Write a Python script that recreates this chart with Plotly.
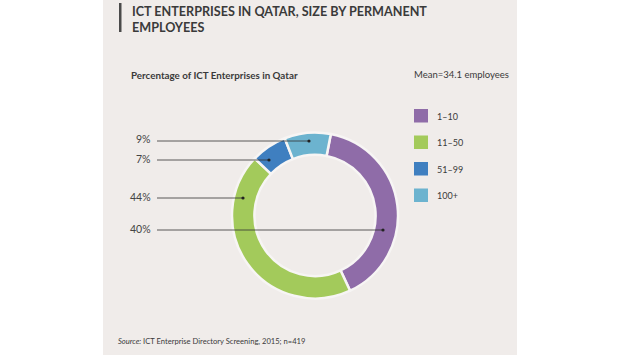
import plotly.graph_objects as go

# ---- data ----
categories = ["1–10", "11–50", "51–99", "100+"]
shares = [40, 44, 7, 9]
colors = ["#8f6ca8", "#a3ca5b", "#3f7fc0", "#6cb3cf"]

title_lines = ["ICT ENTERPRISES IN QATAR, SIZE BY PERMANENT", "EMPLOYEES"]
subtitle = "Percentage of ICT Enterprises in Qatar"
mean_note = "Mean=34.1 employees"
source_note = "<i>Source:</i> ICT Enterprise Directory Screening, 2015; n=419"

W, H = 620, 355


def px(x):
    return x / W


def py(y):
    return 1 - y / H


FONT = "Lato"
TXT = "#3a3a3a"

fig = go.Figure()
fig.add_trace(go.Pie(
    labels=categories,
    values=shares,
    sort=False,
    direction="clockwise",
    rotation=11,
    hole=0.73,
    marker=dict(colors=colors, line=dict(color="#f7f5f4", width=2.5)),
    textinfo="none",
    hoverinfo="label+percent",
    showlegend=False,
    domain=dict(x=[px(232), px(398)], y=[1 - 298.5 / H, 1 - 132.5 / H]),
))

shapes = [
    # background panel
    dict(type="rect", xref="paper", yref="paper", x0=px(103), x1=px(517), y0=0, y1=1,
         fillcolor="#f0ecea", line=dict(width=0), layer="below"),
    # title accent bar
    dict(type="rect", xref="paper", yref="paper", x0=px(119), x1=px(121.5), y0=py(32), y1=py(3),
         fillcolor="#4a4a4a", line=dict(width=0)),
]
annotations = []

# title
annotations.append(dict(text="<br>".join(title_lines), x=px(130), y=py(2), xref="paper", yref="paper",
                        xanchor="left", yanchor="top", align="left", showarrow=False,
                        font=dict(family=FONT, size=12.6, color=TXT, weight="bold")))
annotations.append(dict(text=subtitle, x=px(129), y=py(75), xref="paper", yref="paper",
                        xanchor="left", yanchor="middle", showarrow=False,
                        font=dict(family=FONT, size=9.8, color=TXT, weight="bold")))
annotations.append(dict(text=mean_note, x=px(412), y=py(75), xref="paper", yref="paper",
                        xanchor="left", yanchor="middle", showarrow=False,
                        font=dict(family=FONT, size=9.5, color=TXT)))
annotations.append(dict(text=source_note, x=px(116), y=py(341), xref="paper", yref="paper",
                        xanchor="left", yanchor="middle", showarrow=False,
                        font=dict(family=FONT, size=7.6, color=TXT)))

# legend (manual)
leg_top = [109, 135.5, 162, 188.5]
for cat, col, yt in zip(categories, colors, leg_top):
    shapes.append(dict(type="rect", xref="paper", yref="paper", x0=px(414), x1=px(428),
                       y0=py(yt + 13.5), y1=py(yt), fillcolor=col, line=dict(width=0)))
    annotations.append(dict(text=cat, x=px(435), y=py(yt + 7), xref="paper", yref="paper",
                            xanchor="left", yanchor="middle", showarrow=False,
                            font=dict(family=FONT, size=9, color=TXT)))

# leader labels (label y level, dot x on ring)
leader_y = [230, 198, 160, 141]
leader_dot_x = [383, 243, 269, 309]
for v, ly, dx in zip(shares, leader_y, leader_dot_x):
    annotations.append(dict(text=f"{v}%", x=px(153), y=py(ly - 1.5), xref="paper", yref="paper",
                            xanchor="right", yanchor="middle", showarrow=False,
                            font=dict(family=FONT, size=10.5, color="#444")))
    shapes.append(dict(type="line", xref="paper", yref="paper", x0=px(157), x1=px(dx),
                       y0=py(ly), y1=py(ly), line=dict(color="#333", width=0.8)))
    shapes.append(dict(type="circle", xref="paper", yref="paper", x0=px(dx - 1.6), x1=px(dx + 1.6),
                       y0=py(ly + 1.6), y1=py(ly - 1.6), fillcolor="#222", line=dict(width=0)))

fig.update_layout(
    width=W, height=H,
    margin=dict(l=0, r=0, t=0, b=0),
    paper_bgcolor="white",
    plot_bgcolor="white",
    shapes=shapes,
    annotations=annotations,
    font=dict(family=FONT),
)

fig.write_html("out.html", config={"displayModeBar": False},
               post_script="document.body.style.margin='0';")
